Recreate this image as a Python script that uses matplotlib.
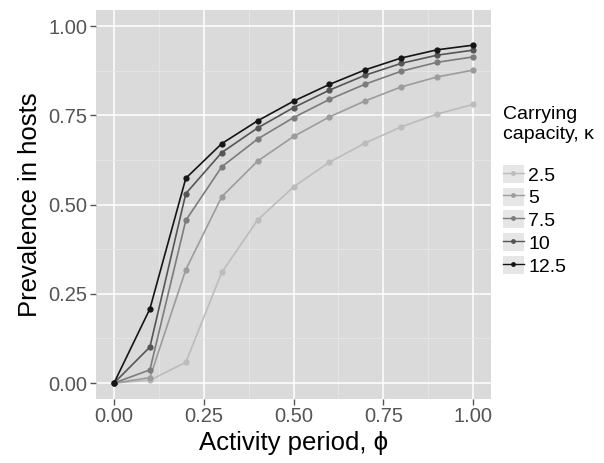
import matplotlib
matplotlib.use("Agg")
import matplotlib.pyplot as plt
from matplotlib.patches import Rectangle
from matplotlib.lines import Line2D
from matplotlib.legend_handler import HandlerTuple

plt.rcParams['font.family'] = ['Liberation Sans', 'DejaVu Sans']

phi = [0.0, 0.1, 0.2, 0.3, 0.4, 0.5, 0.6, 0.7, 0.8, 0.9, 1.0]
kappa_labels = ['2.5', '5', '7.5', '10', '12.5']
prev_2_5 = [0.0, 0.008, 0.058, 0.310, 0.457, 0.550, 0.619, 0.673, 0.718, 0.754, 0.781]
prev_5 = [0.0, 0.015, 0.318, 0.522, 0.622, 0.691, 0.746, 0.791, 0.830, 0.858, 0.877]
prev_7_5 = [0.0, 0.037, 0.456, 0.606, 0.684, 0.744, 0.795, 0.838, 0.874, 0.899, 0.914]
prev_10 = [0.0, 0.101, 0.531, 0.646, 0.715, 0.772, 0.821, 0.863, 0.896, 0.919, 0.933]
prev_12_5 = [0.0, 0.208, 0.574, 0.671, 0.735, 0.790, 0.837, 0.878, 0.911, 0.934, 0.947]
series = [prev_2_5, prev_5, prev_7_5, prev_10, prev_12_5]
colors = ['#bcbcbc', '#9c9c9c', '#7c7c7c', '#555555', '#151515']

fig = plt.figure(figsize=(6.04, 4.63), dpi=100)
ax = fig.add_axes([0.159, 0.138, 0.654, 0.840])
ax.set_facecolor('#dadada')

ax.set_xlim(-0.05, 1.05)
ax.set_ylim(-0.045, 1.045)
ticks = [0, 0.25, 0.5, 0.75, 1.0]
ax.set_xticks(ticks)
ax.set_yticks(ticks)
ax.set_xticklabels(['0.00', '0.25', '0.50', '0.75', '1.00'])
ax.set_yticklabels(['0.00', '0.25', '0.50', '0.75', '1.00'])
ax.set_xticks([0.125, 0.375, 0.625, 0.875], minor=True)
ax.set_yticks([0.125, 0.375, 0.625, 0.875], minor=True)
ax.grid(which='major', color='white', linewidth=1.1)
ax.grid(which='minor', color='#e6e6e6', linewidth=0.6)
ax.set_axisbelow(True)
for s in ax.spines.values():
    s.set_visible(False)
ax.tick_params(which='major', length=4, width=1, color='#555555',
               labelsize=14.5, labelcolor='#555555', pad=2)
ax.tick_params(which='minor', length=0)

handles = []
for vals, c, lab in zip(series, colors, kappa_labels):
    ax.plot(phi, vals, color=c, linewidth=1.2, marker='o', markersize=4.5,
            markeredgewidth=0)
    bg = Rectangle((0, 0), 1, 1, facecolor='#e6e6e6', edgecolor='none')
    ln = Line2D([], [], color=c, linewidth=1.0, marker='o', markersize=3.5,
                markeredgewidth=0)
    handles.append((bg, ln))

ax.set_xlabel('Activity period, ϕ', fontsize=18.5, labelpad=3)
ax.set_ylabel('Prevalence in hosts', fontsize=18.5, labelpad=5)

leg = fig.legend(handles, kappa_labels, title='Carrying\ncapacity, κ',
                 handler_map={tuple: HandlerTuple(ndivide=1, pad=0)},
                 loc='upper left', bbox_to_anchor=(0.833, 0.771),
                 frameon=False, fontsize=14, title_fontsize=14,
                 handlelength=1.05, handleheight=1.05, handletextpad=0.25,
                 labelspacing=0.16, borderaxespad=0, borderpad=0)
leg._legend_box.align = 'left'
leg._legend_box.sep = 16

fig.savefig('out.png', dpi=100)
